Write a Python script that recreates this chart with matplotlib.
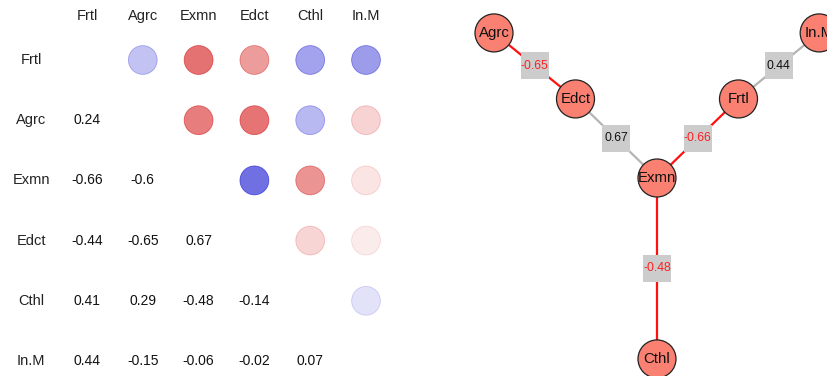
import numpy as np
import matplotlib
matplotlib.use("Agg")
import matplotlib.pyplot as plt
from matplotlib.patches import Circle, Rectangle

plt.rcParams['font.family'] = ['Liberation Sans', 'DejaVu Sans']

# variables and correlation values (lower triangle, row by row)
names = ["Frtl", "Agrc", "Exmn", "Edct", "Cthl", "In.M"]
lower = [
    [],
    [0.24],
    [-0.66, -0.6],
    [-0.44, -0.65, 0.67],
    [0.41, 0.29, -0.48, -0.14],
    [0.44, -0.15, -0.06, -0.02, 0.07],
]

# edges of the network (strongest links)
edges = [("Agrc", "Edct"), ("Edct", "Exmn"), ("Exmn", "Frtl"),
         ("Frtl", "In.M"), ("Exmn", "Cthl")]
# node layout
layout = {"Agrc": (-2.0, 1.78), "Edct": (-1.0, 0.97), "Exmn": (0.0, 0.0),
          "Frtl": (1.0, 0.97), "In.M": (1.99, 1.78), "Cthl": (0.0, -2.22)}

n = len(names)
corr = np.eye(n)
for i, row in enumerate(lower):
    for j, v in enumerate(row):
        corr[i, j] = v
        corr[j, i] = v

red = np.array([0.85, 0.17, 0.17])
blue = np.array([0.17, 0.17, 0.84])

fig = plt.figure(figsize=(8.28, 3.76), dpi=100)

# ---- left: correlation matrix ----
W, H = 828.0, 376.0
cw, rh = 55.8, 60.2
x0, y0 = 87.0, 60.0
ax = fig.add_axes([(x0 - 1.5 * cw) / W, (H - (y0 + 5.3 * rh)) / H,
                   8 * cw / W, 6.3 * rh / H])
ax.set_xlim(-1.5, 6.5)
ax.set_ylim(5.3, -1)
ax.axis("off")

for k, nm in enumerate(names):
    ax.text(k, -0.73, nm, ha="center", va="center", fontsize=10.5, color="#222222")
    ax.text(-1, k, nm, ha="center", va="center", fontsize=10.5, color="#222222")

xs, ys, fc, ec = [], [], [], []
for i in range(n):
    for j in range(n):
        if j < i:
            ax.text(j, i, f"{corr[i, j]:g}", ha="center", va="center",
                    fontsize=10, color="#111111")
        elif j > i:
            r = corr[i, j]
            base = blue if r > 0 else red
            a = min(1.0, 0.07 + 0.9 * abs(r))
            xs.append(j)
            ys.append(i)
            fc.append((*base, a))
            ec.append((*base, min(1.0, a + 0.06)))
ax.scatter(xs, ys, s=430, c=fc, edgecolors=ec, linewidths=0.6)

# ---- right: network ----
px = 81.5
ax2 = fig.add_axes([460 / W, 0, (W - 460) / W, 1])
ax2.set_xlim(-197 / px, (W - 657) / px)
ax2.set_ylim(-(H - 178) / px, 178 / px)
ax2.axis("off")

rad = 19 / px
bw, bh = 28 / px, 27 / px
for a, b in edges:
    r = corr[names.index(a), names.index(b)]
    (xa, ya), (xb, yb) = layout[a], layout[b]
    col = "#ff1010" if r < 0 else "#b4b4b4"
    ax2.plot([xa, xb], [ya, yb], color=col, lw=1.6, zorder=1)
    mx, my = (xa + xb) / 2, (ya + yb) / 2
    ax2.add_patch(Rectangle((mx - bw / 2, my - bh / 2), bw, bh,
                            facecolor="#cccccc", edgecolor="none", zorder=2))
    ax2.text(mx, my, f"{r:g}", ha="center", va="center", fontsize=8.8,
             color="#ff2020" if r < 0 else "#111111", zorder=3)

for nm, (x, y) in layout.items():
    ax2.add_patch(Circle((x, y), rad, facecolor="#fa8072", edgecolor="#222222",
                         lw=0.9, zorder=4))
    ax2.text(x, y, nm, ha="center", va="center", fontsize=10.8, color="#111111",
             zorder=5)

fig.savefig("out.png", dpi=100)
